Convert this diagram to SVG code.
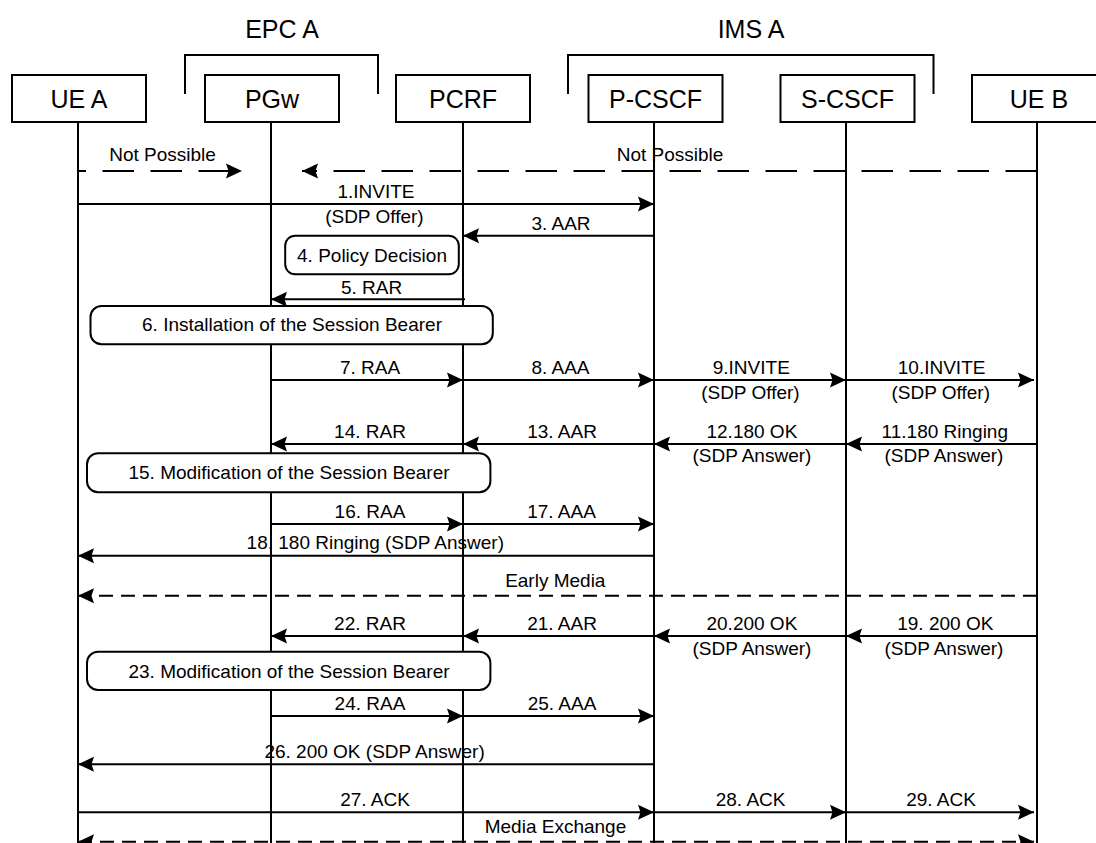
<svg xmlns="http://www.w3.org/2000/svg" width="1096" height="843" viewBox="0 0 1096 843">
<style>
text{font-family:"Liberation Sans",Arial,sans-serif;fill:#000;text-anchor:middle}
.t{font-size:25px}
.l{font-size:19px}
.box{fill:#fff;stroke:#000;stroke-width:2}
.rbox{fill:#fff;stroke:#000;stroke-width:2}
.life{stroke:#000;stroke-width:2;fill:none}
.br{stroke:#000;stroke-width:2;fill:none}
.m{stroke:#000;stroke-width:2;fill:none;marker-end:url(#ah)}
.dl{stroke:#000;stroke-width:2;fill:none;stroke-dasharray:31.5 16.5;marker-end:url(#ah)}
.ds{stroke:#000;stroke-width:2;fill:none;stroke-dasharray:14 8;marker-end:url(#ah)}
</style>
<defs>
<marker id="ah" markerUnits="userSpaceOnUse" markerWidth="16" markerHeight="16" viewBox="0 0 16 16" refX="16" refY="8" orient="auto-start-reverse">
<path d="M0,0.5 L16,8 L0,15.5 L2.5,8 z" fill="#000"/>
</marker>
</defs>

<g id="group-epc">
<polyline class="br" points="185,94 185,55 378,55 378,94"/>
<text class="t" x="282" y="38">EPC A</text>
</g>
<g id="group-ims">
<polyline class="br" points="568,94 568,55 933.5,55 933.5,94"/>
<text class="t" x="751" y="38">IMS A</text>
</g>

<g id="lifelines">
<line class="life" x1="78" y1="122" x2="78" y2="843"/>
<line class="life" x1="271" y1="122" x2="271" y2="843"/>
<line class="life" x1="463" y1="122" x2="463" y2="843"/>
<line class="life" x1="654" y1="122" x2="654" y2="843"/>
<line class="life" x1="846" y1="122" x2="846" y2="843"/>
<line class="life" x1="1037" y1="122" x2="1037" y2="843"/>
</g>

<g id="node-uea"><rect class="box" x="12" y="75" width="134" height="47"/><text class="t" x="79" y="108">UE A</text></g>
<g id="node-pgw"><rect class="box" x="205" y="75" width="134" height="47"/><text class="t" x="272" y="108">PGw</text></g>
<g id="node-pcrf"><rect class="box" x="396" y="75" width="134" height="47"/><text class="t" x="463" y="108">PCRF</text></g>
<g id="node-pcscf"><rect class="box" x="588.5" y="75" width="134" height="47"/><text class="t" x="655.5" y="108">P-CSCF</text></g>
<g id="node-scscf"><rect class="box" x="780.5" y="75" width="134" height="47"/><text class="t" x="847.5" y="108">S-CSCF</text></g>
<g id="node-ueb"><rect class="box" x="972" y="75" width="134" height="47"/><text class="t" x="1039" y="108">UE B</text></g>

<g id="connectors">
<line class="dl" x1="78" y1="171" x2="242" y2="171" stroke-dashoffset="23.5"/>
<line class="dl" x1="1037" y1="171" x2="302" y2="171"/>
<line class="m" x1="78" y1="204" x2="654" y2="204"/>
<line class="m" x1="654" y1="235.7" x2="463" y2="235.7"/>
<line class="m" x1="465" y1="299.3" x2="271" y2="299.3"/>
<line class="m" x1="271" y1="380" x2="463" y2="380"/>
<line class="m" x1="463" y1="380" x2="654" y2="380"/>
<line class="m" x1="654" y1="380" x2="846" y2="380"/>
<line class="m" x1="846" y1="380" x2="1034" y2="380"/>
<line class="m" x1="1037" y1="444" x2="846" y2="444"/>
<line class="m" x1="846" y1="444" x2="654" y2="444"/>
<line class="m" x1="654" y1="444" x2="463" y2="444"/>
<line class="m" x1="463" y1="444" x2="271" y2="444"/>
<line class="m" x1="271" y1="524" x2="463" y2="524"/>
<line class="m" x1="463" y1="524" x2="654" y2="524"/>
<line class="m" x1="654" y1="555.7" x2="78" y2="555.7"/>
<line class="ds" x1="1037" y1="595.7" x2="78" y2="595.7"/>
<line class="m" x1="1037" y1="636" x2="846" y2="636"/>
<line class="m" x1="846" y1="636" x2="654" y2="636"/>
<line class="m" x1="654" y1="636" x2="463" y2="636"/>
<line class="m" x1="463" y1="636" x2="271" y2="636"/>
<line class="m" x1="271" y1="716" x2="463" y2="716"/>
<line class="m" x1="463" y1="716" x2="654" y2="716"/>
<line class="m" x1="654" y1="764.3" x2="78" y2="764.3"/>
<line class="m" x1="78" y1="812.3" x2="654" y2="812.3"/>
<line class="m" x1="654" y1="812.3" x2="846" y2="812.3"/>
<line class="m" x1="846" y1="812.3" x2="1034" y2="812.3"/>
<line class="ds" x1="78" y1="841.7" x2="1034" y2="841.7" style="marker-start:url(#ah)"/>
</g>

<g id="node-policy"><rect class="rbox" x="285.2" y="235.7" width="173.6" height="38.6" rx="10"/><text class="l" x="372" y="261.7">4. Policy Decision</text></g>
<g id="node-install"><rect class="rbox" x="90.5" y="306" width="402.3" height="38.3" rx="11"/><text class="l" x="292" y="331">6. Installation of the Session Bearer</text></g>
<g id="node-mod15"><rect class="rbox" x="87" y="453.3" width="403.4" height="39" rx="11"/><text class="l" x="289" y="479">15. Modification of the Session Bearer</text></g>
<g id="node-mod23"><rect class="rbox" x="87" y="651.7" width="403.4" height="38.3" rx="11"/><text class="l" x="289" y="678.3">23. Modification of the Session Bearer</text></g>

<g id="labels">
<text class="l" x="162.6" y="160.7">Not Possible</text>
<text class="l" x="670" y="160.7">Not Possible</text>
<text class="l" x="376" y="198">1.INVITE</text>
<text class="l" x="374.4" y="222.5">(SDP Offer)</text>
<text class="l" x="561" y="230">3. AAR</text>
<text class="l" x="371.5" y="294">5. RAR</text>
<text class="l" x="370" y="373.7">7. RAA</text>
<text class="l" x="560.5" y="373.7">8. AAA</text>
<text class="l" x="751.3" y="373.7">9.INVITE</text>
<text class="l" x="750.4" y="399.3">(SDP Offer)</text>
<text class="l" x="941.6" y="373.7">10.INVITE</text>
<text class="l" x="940.7" y="399.3">(SDP Offer)</text>
<text class="l" x="944.8" y="438.3">11.180 Ringing</text>
<text class="l" x="943.9" y="461.7">(SDP Answer)</text>
<text class="l" x="751.9" y="438.3">12.180 OK</text>
<text class="l" x="751.9" y="461.7">(SDP Answer)</text>
<text class="l" x="562" y="438.3">13. AAR</text>
<text class="l" x="370" y="438.3">14. RAR</text>
<text class="l" x="370" y="517.7">16. RAA</text>
<text class="l" x="561.5" y="517.7">17. AAA</text>
<text class="l" x="375.3" y="549.3">18. 180 Ringing (SDP Answer)</text>
<text class="l" x="555.3" y="587.3">Early Media</text>
<text class="l" x="945.3" y="630">19. 200 OK</text>
<text class="l" x="943.9" y="655">(SDP Answer)</text>
<text class="l" x="751.9" y="630">20.200 OK</text>
<text class="l" x="751.9" y="655">(SDP Answer)</text>
<text class="l" x="562" y="630">21. AAR</text>
<text class="l" x="370" y="630">22. RAR</text>
<text class="l" x="370" y="710">24. RAA</text>
<text class="l" x="562" y="710">25. AAA</text>
<text class="l" x="374.6" y="758.3">26. 200 OK (SDP Answer)</text>
<text class="l" x="375" y="805.7">27. ACK</text>
<text class="l" x="750.6" y="805.7">28. ACK</text>
<text class="l" x="941" y="805.7">29. ACK</text>
<text class="l" x="555.5" y="833.3">Media Exchange</text>
</g>
</svg>
